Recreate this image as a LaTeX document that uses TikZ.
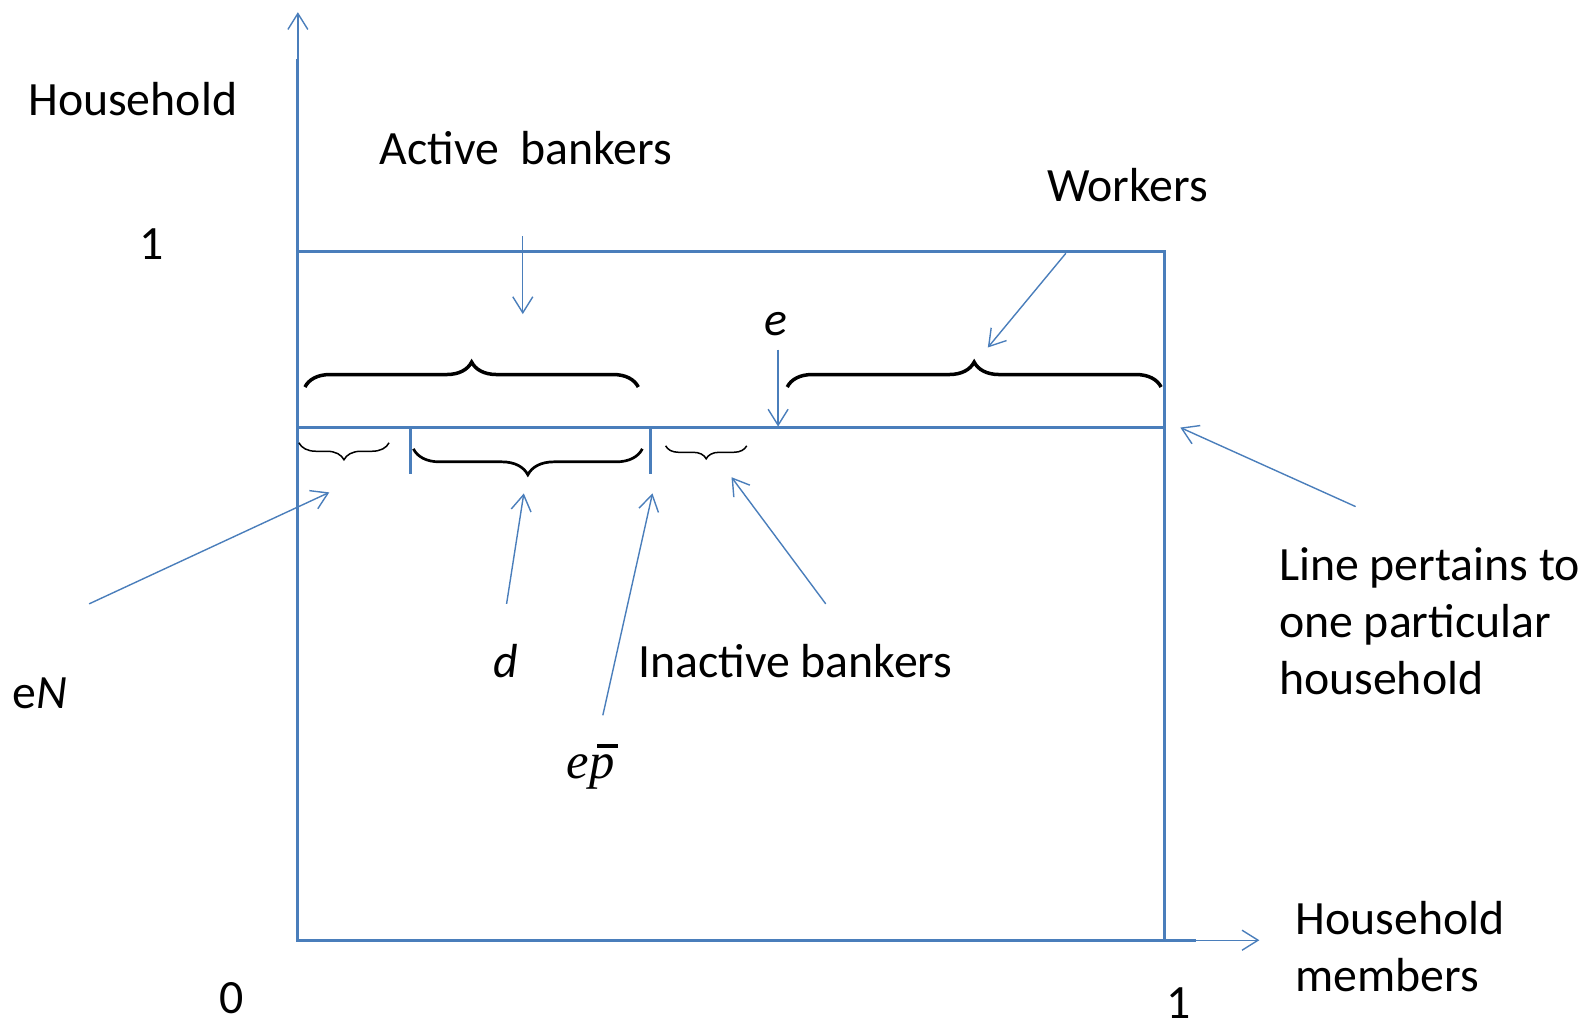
\documentclass[tikz,border=0pt]{standalone}
\usepackage{fontspec}
\setmainfont{Carlito}
\newfontfamily\tnr{Liberation Serif}
\usetikzlibrary{arrows.meta,decorations.pathreplacing}
\definecolor{axisblue}{HTML}{4A7EBB}
\begin{document}
\begin{tikzpicture}[x=0.5066pt,y=-0.5066pt,
  font=\fontsize{23.9}{28.4}\selectfont,
  thickline/.style={axisblue,line width=1.4pt},
  thinarrow/.style={axisblue,line width=0.7pt,-{Straight Barb[length=8pt,width=10pt]}},
  bigbrace/.style={decorate,decoration={brace,amplitude=12.5pt},line width=1.75pt},
  midbrace/.style={decorate,decoration={brace,amplitude=13pt,mirror},line width=1.35pt},
  smallbrace/.style={decorate,decoration={brace,amplitude=8.5pt,mirror},line width=0.75pt},
  lbl/.style={inner sep=0pt}]
\useasboundingbox (0,0) rectangle (1564.4,1015.6);
% axes and box
\coordinate (O) at (294,928);
\coordinate (Ytop) at (294,12);
\coordinate (Ythick) at (294,58);
\coordinate (Xend) at (1243,928);
\coordinate (Xthick) at (1180,928);
\coordinate (TL) at (294,248);
\coordinate (TR) at (1149,248);
\coordinate (BR) at (1149,928);
\coordinate (ML) at (294,422);
\coordinate (MR) at (1149,422);
\draw[thickline] (Ythick) -- (O) -- (Xthick);
\draw[thinarrow] (Ythick) -- (Ytop);
\draw[thinarrow] (Xthick) -- (Xend);
\draw[thickline] (TL) -- (TR) -- (BR);
\draw[thickline] (ML) -- (MR);
\coordinate (t1a) at (405,422); \coordinate (t1b) at (405,468);
\coordinate (t2a) at (642,422); \coordinate (t2b) at (642,468);
\draw[thickline] (t1a) -- (t1b);
\draw[thickline] (t2a) -- (t2b);
% braces
\coordinate (b1a) at (301,382); \coordinate (b1b) at (630,382);
\coordinate (b2a) at (777,382); \coordinate (b2b) at (1146,382);
\draw[bigbrace] (b1a) -- (b1b);
\draw[bigbrace] (b2a) -- (b2b);
\coordinate (s1a) at (295,437); \coordinate (s1b) at (384,437);
\coordinate (s2a) at (408,443); \coordinate (s2b) at (634,443);
\coordinate (s3a) at (657,440); \coordinate (s3b) at (737,440);
\draw[smallbrace] (s1a) -- (s1b);
\draw[midbrace] (s2a) -- (s2b);
\draw[smallbrace,decoration={amplitude=6.5pt}] (s3a) -- (s3b);
% labels
\node[lbl] (hh) at (131,98) {Household};
\node[lbl] (act) at (519,146) {Active\ \ bankers};
\node[lbl] (wk) at (1113,183) {Workers};
\node[lbl] (one) at (150,241) {1};
\node[lbl] (e) at (766,320) {\itshape e};
\node[lbl] (eN) at (39,684) {e\textit{N}};
\node[lbl] (d) at (499,652) {\itshape d};
\node[lbl] (inact) at (785,652) {Inactive bankers};
\node[lbl] (ep) at (583,757) {\tnr\fontsize{25.3}{28}\selectfont\itshape e\makebox[0pt][l]{\hspace{0.16em}\raisebox{0.6em}{\rule{0.4em}{0.08em}}}p};
\node[lbl,align=left] (line) at (1411,613) {Line pertains to\\one particular\\household};
\node[lbl,align=left] (hm) at (1382,934) {Household\\members};
\node[lbl] (zero) at (229,985) {0};
\node[lbl] (oneX) at (1163,990) {1};
% arrows
\coordinate (aA) at (516,233); \coordinate (aAt) at (516,310);
\coordinate (aW) at (1052,250); \coordinate (aWt) at (975,343);
\coordinate (aE) at (768,345); \coordinate (aEt) at (768,421);
\coordinate (aN) at (88,596); \coordinate (aNt) at (325,486);
\coordinate (aD) at (500,596); \coordinate (aDt) at (517,487);
\coordinate (aP) at (595,706); \coordinate (aPt) at (644,487);
\coordinate (aI) at (815,596); \coordinate (aIt) at (722,471);
\coordinate (aL) at (1338,500); \coordinate (aLt) at (1165,422);
\draw[thinarrow] (aA) -- (aAt);
\draw[thinarrow] (aW) -- (aWt);
\draw[thinarrow] (aE) -- (aEt);
\draw[thinarrow] (aN) -- (aNt);
\draw[thinarrow] (aD) -- (aDt);
\draw[thinarrow] (aP) -- (aPt);
\draw[thinarrow] (aI) -- (aIt);
\draw[thinarrow] (aL) -- (aLt);
\end{tikzpicture}
\end{document}
